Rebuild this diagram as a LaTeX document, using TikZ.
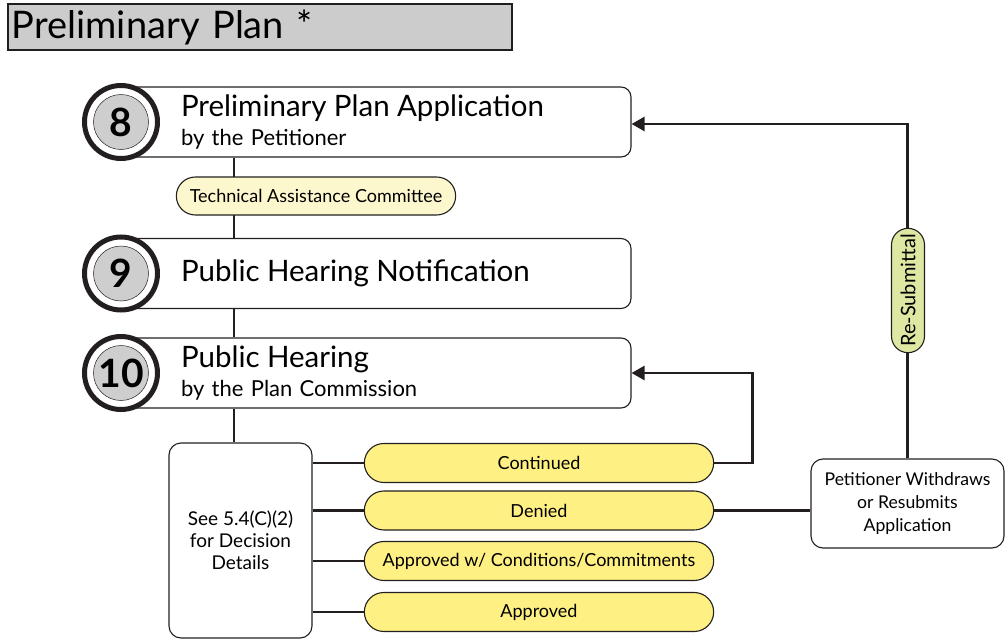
\documentclass[tikz,border=0pt]{standalone}
\usepackage{fontspec}
\setmainfont{Lato}
\usepackage{tikz}
\usetikzlibrary{arrows.meta,shapes.misc,backgrounds}
\definecolor{titlegray}{RGB}{204,204,204}
\definecolor{numgray}{RGB}{206,206,206}
\definecolor{paleyellow}{RGB}{252,247,204}
\definecolor{pillyellow}{RGB}{254,240,130}
\definecolor{palegreen}{RGB}{222,232,162}
\definecolor{ink}{RGB}{35,31,32}
\newcommand\fsz[2]{\fontsize{#1}{#2}\selectfont}
\tikzset{
  fs/.style={font=\fsz{#1}{22}},
  stepbox/.style={draw=ink,line width=1.1pt,rounded corners=10pt,fill=white,
    minimum width=510pt,minimum height=70pt,inner xsep=60pt,text width=390pt,align=left,
    font=\fsz{22}{29}},
  ring/.style={circle,draw=ink,line width=5pt,fill=white,minimum size=73pt},
  numdisc/.style={circle,draw=ink,line width=0.5pt,fill=numgray,minimum size=55pt,
    inner sep=0pt,font=\fsz{39}{39}\bfseries},
  pill/.style={rounded rectangle,draw=ink,line width=1.1pt,fill=pillyellow,
    minimum width=356pt,minimum height=39pt,fs=18},
  plainbox/.style={draw=ink,line width=1.1pt,rounded corners=12pt,fill=white,align=center},
  link/.style={draw=ink,line width=2.6pt},
  arr/.style={link,-{Triangle[length=13pt,width=14pt]}}
}
\begin{document}
\begin{tikzpicture}[x=1pt,y=-1pt]
\useasboundingbox (0,0) rectangle (1005,640);

% title bar
\node[draw=ink,line width=1.2pt,fill=titlegray,minimum width=504pt,minimum height=46pt,
  inner xsep=4pt,text width=496pt,align=left,fs=38] (title) at (260,27) {Preliminary Plan~*};

% steps
\node[stepbox] (box8) at (376,122) {{\fsz{29.5}{29}Preliminary Plan Application}\\by the Petitioner};
\node[stepbox] (box9) at (376,273.5) {{\fsz{29.5}{29}Public Hearing Notification}};
\node[stepbox] (box10) at (376,373) {{\fsz{29.5}{29}Public Hearing}\\by the Plan Commission};
\foreach \n/\y in {8/122,9/273.5,10/373}{
  \node[ring] (ring\n) at (121,\y) {};
  \node[numdisc] (num\n) at (121,\y) {\n};
}

\coordinate (spine) at (234,0);
\node[rounded rectangle,draw=ink,line width=1.1pt,fill=paleyellow,minimum width=286pt,
  minimum height=38pt,fs=18] (tac) at (316,196) {Technical Assistance Committee};

% decision
\node[plainbox,minimum width=143pt,minimum height=195pt,fs=19] (decide) at (240.5,540.5)
  {See 5.4(C)(2)\\for Decision\\Details};
\node[pill] (cont) at (539,463) {Continued};
\node[pill] (den) at (539,510.5) {Denied};
\node[pill] (cond) at (539,561) {Approved w/ Conditions/Commitments};
\node[pill] (appr) at (539,612) {Approved};

\node[plainbox,minimum width=193pt,minimum height=89pt,font=\fsz{17.6}{23}] (pet) at (907.5,503.5)
  {Petitioner Withdraws\\or Resubmits\\Application};
\node[rounded rectangle,rotate=90,draw=ink,line width=1.1pt,fill=palegreen,
  minimum width=131pt,minimum height=33pt,fs=20] (resub) at (908,290.5) {Re-Submittal};

\begin{scope}[on background layer]
\path[link] (box8.south -| spine) -- (box9.north -| spine);
\path[link] (box9.south -| spine) -- (box10.north -| spine);
\path[link] (box10.south -| spine) -- (decide.north -| spine);
\foreach \p in {cont,den,cond,appr}
  \path[link] (decide.east |- \p) -- (\p.west);
\path[arr] (cont.east) -- ++(38,0) |- (box10.east);
\path[link] (den.east) -- (den.east -| pet.west);
\path[arr] (pet.north) |- ([yshift=-2pt]box8.east);
\end{scope}
\end{tikzpicture}
\end{document}
